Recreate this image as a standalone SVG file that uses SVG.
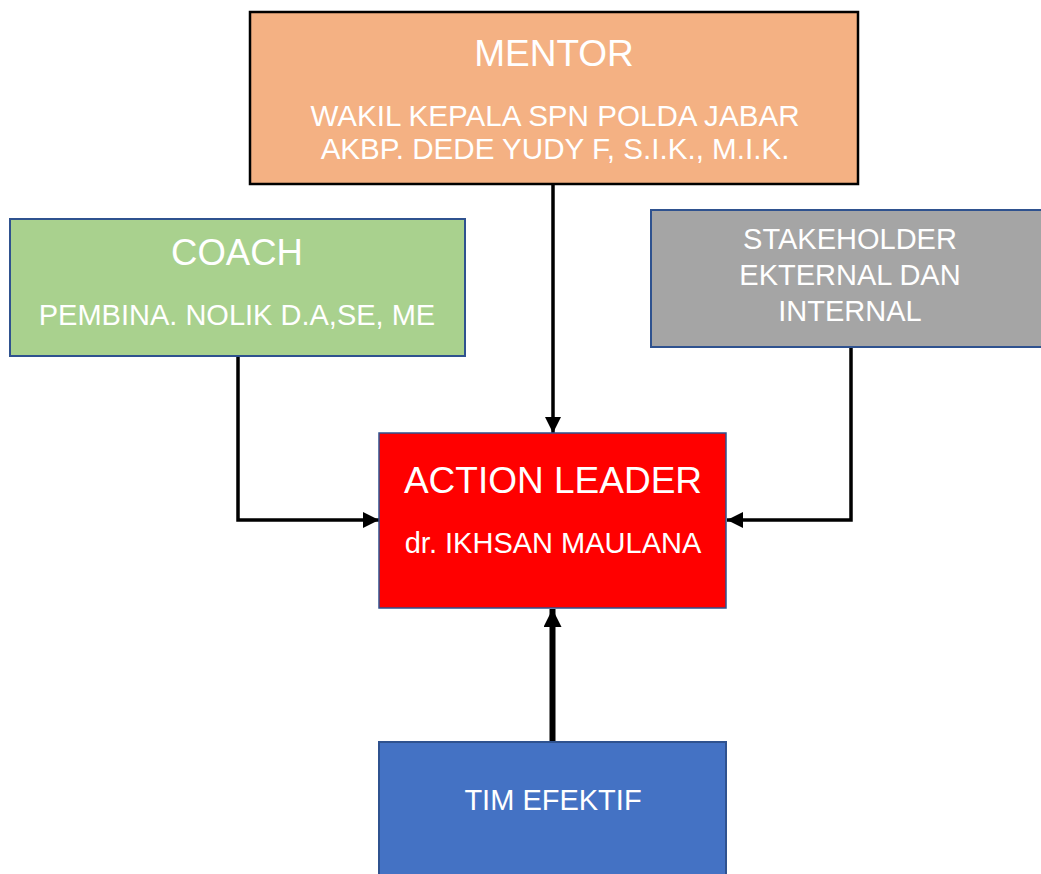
<svg xmlns="http://www.w3.org/2000/svg" width="1041" height="874" viewBox="0 0 1041 874">
<defs>
<marker id="ah" markerUnits="userSpaceOnUse" markerWidth="16" markerHeight="16" viewBox="0 0 16 16" refX="16" refY="8" orient="auto">
<path d="M0,0 L16,8 L0,16 Z" fill="#000"/>
</marker>
<marker id="ahb" markerUnits="userSpaceOnUse" markerWidth="18" markerHeight="18" viewBox="0 0 18 18" refX="18" refY="9" orient="auto">
<path d="M0,0 L18,9 L0,18 Z" fill="#000"/>
</marker>
</defs>
<style>
text{font-family:"Liberation Sans",Arial,sans-serif;fill:#fff;text-anchor:middle}
.t{font-size:37px}
.s{font-size:29px}
.m{font-size:29.6px}
.box{stroke:#2F528F;stroke-width:2}
.c{fill:none;stroke:#000;stroke-width:3.5}
</style>
<rect width="1041" height="874" fill="#fff"/>
<g id="connectors">
<path class="c" d="M553,184 V433" marker-end="url(#ah)"/>
<path class="c" d="M238,356 V520 H379" marker-end="url(#ah)"/>
<path class="c" d="M851,347 V520 H727" marker-end="url(#ah)"/>
<path class="c" d="M552.5,742 V609" style="stroke-width:6" marker-end="url(#ahb)"/>
</g>
<g id="mentor">
<rect x="250" y="12" width="608" height="172" fill="#F4B183" stroke="#000" stroke-width="2.5"/>
<text class="t" x="554" y="66">MENTOR</text>
<text class="m" x="555" y="126">WAKIL KEPALA SPN POLDA JABAR</text>
<text class="m" x="555" y="159">AKBP. DEDE YUDY F, S.I.K., M.I.K.</text>
</g>
<g id="coach">
<rect class="box" x="10" y="219" width="455" height="137" fill="#A9D18E"/>
<text class="t" x="237" y="265" style="font-size:36.5px">COACH</text>
<text class="s" x="237" y="325">PEMBINA. NOLIK D.A,SE, ME</text>
</g>
<g id="stakeholder">
<rect class="box" x="651" y="210" width="400" height="137" fill="#A5A5A5"/>
<text class="s" x="850" y="249">STAKEHOLDER</text>
<text class="s" x="850" y="285">EKTERNAL DAN</text>
<text class="s" x="850" y="321">INTERNAL</text>
</g>
<g id="action-leader">
<rect class="box" x="379" y="433" width="347" height="175" fill="#FF0000" style="stroke-width:1.5"/>
<text class="t" x="553" y="493">ACTION LEADER</text>
<text class="s" x="553" y="553">dr. IKHSAN MAULANA</text>
</g>
<g id="tim-efektif">
<rect class="box" x="379" y="742" width="347" height="140" fill="#4472C4"/>
<text class="s" x="553" y="810">TIM EFEKTIF</text>
</g>
</svg>
